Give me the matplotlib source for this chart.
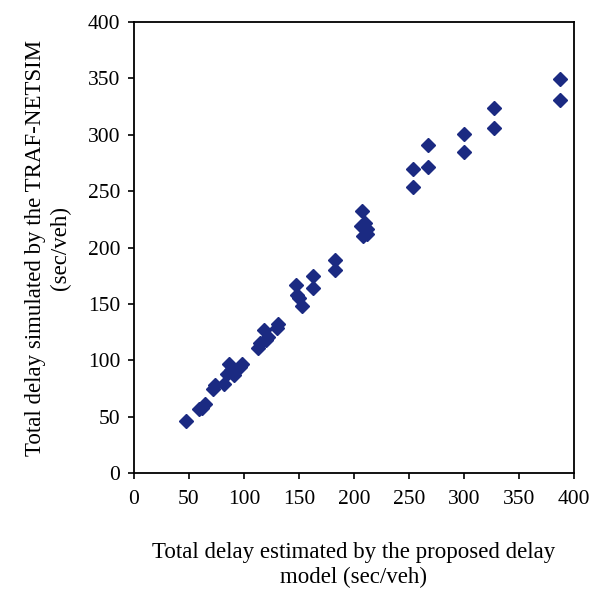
import matplotlib
matplotlib.use("Agg")
import matplotlib.pyplot as plt

# Estimated delay (model) vs simulated delay (TRAF-NETSIM), sec/veh
estimated = [47, 59, 62, 65, 72, 74, 82, 85, 86, 88, 91, 96, 98,
             113, 115, 118, 120, 122, 130, 131,
             147, 148, 150, 153, 163, 163, 183, 183,
             207, 206, 208, 210, 212, 212,
             254, 254, 267, 267, 300, 300, 327, 327, 387, 387]
simulated = [46, 57, 58, 61, 75, 78, 79, 88, 97, 91, 87, 94, 97,
             111, 115, 127, 118, 121, 129, 132,
             167, 158, 155, 148, 175, 164, 189, 180,
             232, 219, 210, 222, 216, 212,
             270, 254, 291, 271, 301, 285, 324, 306, 349, 331]

xticks = list(range(0, 401, 50))
yticks = list(range(0, 401, 50))

plt.rcParams['font.family'] = ['Liberation Serif', 'DejaVu Serif']

fig = plt.figure(figsize=(6.09, 5.90), dpi=100)
ax = fig.add_axes([0.22, 0.198, 0.7225, 0.765])

ax.plot(estimated, simulated, linestyle='none', marker='D', markersize=6.8,
        color='#1b2a82', markeredgecolor='#1b2a82')

ax.set_xlim(0, 400)
ax.set_ylim(0, 400)
ax.set_xticks(xticks)
ax.set_yticks(yticks)
ax.tick_params(direction='out', length=4, width=1.2, labelsize=15.5)
ax.tick_params(axis='x', pad=8)
ax.tick_params(axis='y', pad=6)
for s in ax.spines.values():
    s.set_linewidth(1.3)

ax.set_xlabel('Total delay estimated by the proposed delay\nmodel (sec/veh)',
              fontsize=16.5, labelpad=24, linespacing=1.2)
ax.set_ylabel('Total delay simulated by the TRAF-NETSIM\n(sec/veh)',
              fontsize=16.5, labelpad=12, linespacing=1.25)

fig.savefig('out.png', dpi=100)
